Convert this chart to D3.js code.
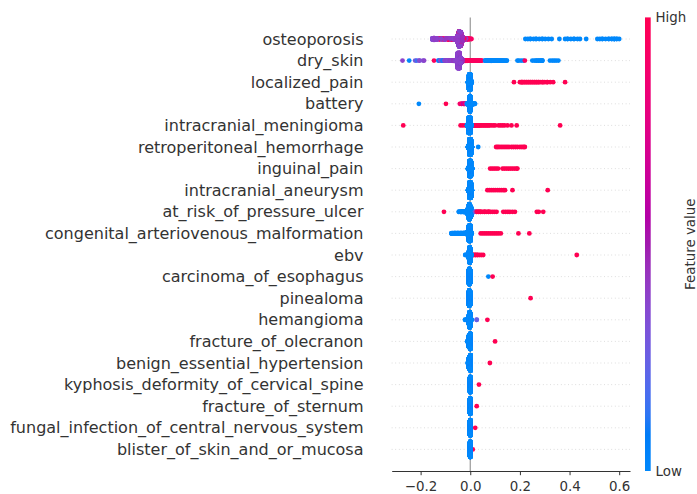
<!DOCTYPE html>
<html>
<head>
<meta charset="utf-8">
<script src="https://cdn.jsdelivr.net/npm/d3@7"></script>
<style>
  body { margin: 0; background: #fff; }
  svg text { font-family: "DejaVu Sans", sans-serif; fill: #333333; }
</style>
</head>
<body>
<svg id="chart"></svg>
<script>
// feature names, top to bottom
const features = [
  "osteoporosis", "dry_skin", "localized_pain", "battery",
  "intracranial_meningioma", "retroperitoneal_hemorrhage", "inguinal_pain",
  "intracranial_aneurysm", "at_risk_of_pressure_ulcer",
  "congenital_arteriovenous_malformation", "ebv", "carcinoma_of_esophagus",
  "pinealoma", "hemangioma", "fracture_of_olecranon",
  "benign_essential_hypertension", "kyphosis_deformity_of_cervical_spine",
  "fracture_of_sternum", "fungal_infection_of_central_nervous_system",
  "blister_of_skin_and_or_mucosa"
];
const xTicks = [-0.2, 0.0, 0.2, 0.4, 0.6];
const colorLabels = ["Low", "High"];

// [shap value, feature value (0 low .. 1 high), number of samples]
const osteoporosis = [
  [-0.152, 0.36, 16], [-0.146, 0.4, 24], [-0.139, 0.38, 14], [-0.131, 0.4, 8],
  [-0.124, 0.95, 6], [-0.117, 0.38, 8], [-0.11, 0.95, 6], [-0.103, 0.4, 8],
  [-0.096, 0.42, 8], [-0.089, 0.95, 6], [-0.089, 0.38, 5], [-0.081, 0.4, 10],
  [-0.074, 0.95, 6], [-0.074, 0.4, 6], [-0.066, 0.38, 14], [-0.059, 0.42, 16],
  [-0.059, 0.95, 6], [-0.052, 0.4, 80], [-0.045, 0.38, 150], [-0.045, 0.95, 50],
  [-0.038, 0.4, 140], [-0.038, 0.95, 40], [-0.031, 0.45, 50], [-0.024, 0.95, 14],
  [-0.017, 0.4, 10], [-0.01, 0.95, 8], [-0.003, 0.9, 4], [0.004, 0.95, 2],
  [0.222, 0, 1], [0.232, 0, 1], [0.242, 0, 2], [0.255, 0, 1], [0.265, 0, 2],
  [0.278, 0, 1], [0.29, 0, 2], [0.302, 0, 1], [0.315, 0, 1], [0.328, 0, 1],
  [0.359, 0, 1], [0.382, 0, 1], [0.392, 0, 2], [0.405, 0, 1], [0.418, 0, 2],
  [0.432, 0, 1], [0.442, 0, 1], [0.467, 0, 1], [0.512, 0, 1], [0.522, 0, 1],
  [0.532, 0, 2], [0.545, 0, 1], [0.558, 0, 2], [0.57, 0, 2], [0.58, 0, 3],
  [0.59, 0, 2], [0.6, 0, 1]
];
const dry_skin = [
  [-0.273, 0.38, 1], [-0.246, 0, 1], [-0.222, 0.3, 1], [-0.215, 0.15, 1],
  [-0.205, 0.35, 2], [-0.19, 0.3, 1], [-0.186, 0.38, 1], [-0.146, 0.95, 1],
  [-0.128, 0.1, 2], [-0.12, 0.35, 2], [-0.112, 0.1, 3], [-0.104, 0.38, 3],
  [-0.097, 0.38, 4], [-0.09, 0.35, 5], [-0.083, 0.4, 6], [-0.076, 0.38, 6],
  [-0.069, 0.42, 8], [-0.062, 0.38, 10], [-0.056, 0.38, 30], [-0.05, 0.38, 120],
  [-0.044, 0.4, 200], [-0.044, 0.1, 30], [-0.038, 0.38, 120], [-0.032, 0.45, 40],
  [-0.026, 0.9, 12], [-0.02, 0.95, 8], [-0.013, 0.95, 8], [-0.006, 0.95, 6],
  [0.001, 0.95, 6], [0.008, 0.95, 5], [0.015, 0.95, 5], [0.022, 0.9, 4],
  [0.03, 0.95, 4], [0.038, 0.95, 3], [0.046, 0.95, 2], [0.06, 0, 3],
  [0.068, 0, 4], [0.076, 0, 5], [0.084, 0, 8], [0.092, 0, 5], [0.1, 0, 4],
  [0.108, 0, 4], [0.116, 0, 3], [0.124, 0, 3], [0.132, 0, 3], [0.14, 0, 2],
  [0.147, 0, 2], [0.19, 0, 1], [0.196, 0, 1], [0.205, 0, 1], [0.214, 0, 1],
  [0.22, 0.95, 1], [0.25, 0, 1], [0.258, 0, 1], [0.266, 0, 2], [0.275, 0, 2],
  [0.283, 0, 2], [0.29, 0, 3], [0.321, 0, 1], [0.33, 0, 1], [0.338, 0, 1],
  [0.346, 0, 1], [0.355, 0, 1]
];
const localized_pain = [
  [-0.008, 0, 40], [-0.004, 0, 300], [0.0, 0, 300], [0.004, 0, 40],
  [0.176, 1, 1], [0.2, 1, 1], [0.206, 1, 2], [0.212, 1, 2], [0.22, 1, 2],
  [0.228, 1, 2], [0.236, 1, 2], [0.244, 1, 2], [0.252, 1, 2], [0.26, 1, 2],
  [0.268, 1, 2], [0.276, 1, 2], [0.284, 1, 1], [0.292, 1, 2], [0.3, 1, 1],
  [0.31, 1, 2], [0.322, 1, 1], [0.334, 1, 1], [0.382, 1, 1]
];
const battery = [
  [-0.207, 0, 1], [-0.098, 1, 1], [-0.042, 0.9, 1], [-0.035, 0.9, 2],
  [-0.028, 0.6, 2], [-0.022, 0.9, 3], [-0.016, 0.4, 3], [-0.012, 0, 15],
  [-0.008, 0, 40], [-0.004, 0, 150], [-0.001, 0, 500], [0.002, 0, 150],
  [0.006, 0, 40], [0.01, 0, 15], [0.015, 0, 6], [0.019, 0, 2]
];
const intracranial_meningioma = [
  [-0.27, 1, 1], [-0.039, 1, 1], [-0.03, 1, 1], [-0.02, 1, 1],
  [-0.012, 0, 20], [-0.006, 0, 300], [0.0, 0, 300], [0.005, 0, 20],
  [0.012, 1, 3], [0.02, 1, 3], [0.028, 1, 3], [0.036, 1, 3], [0.044, 1, 2],
  [0.052, 1, 2], [0.06, 1, 2], [0.068, 1, 2], [0.076, 1, 2], [0.085, 1, 1],
  [0.093, 1, 1], [0.1, 1, 1], [0.114, 1, 1], [0.122, 1, 1], [0.13, 1, 1],
  [0.138, 1, 1], [0.15, 1, 1], [0.166, 1, 1], [0.187, 1, 1], [0.362, 1, 1]
];
const retroperitoneal_hemorrhage = [
  [-0.008, 0, 40], [-0.003, 0, 300], [0.002, 0, 300], [0.006, 0, 30],
  [0.032, 0, 1], [0.104, 1, 1], [0.11, 1, 1], [0.116, 1, 1], [0.124, 1, 1],
  [0.132, 1, 1], [0.14, 1, 1], [0.148, 1, 1], [0.156, 1, 1], [0.166, 1, 1],
  [0.174, 1, 1], [0.182, 1, 1], [0.19, 1, 1], [0.2, 1, 1], [0.208, 1, 1],
  [0.215, 1, 1], [0.22, 1, 1]
];
const inguinal_pain = [
  [-0.008, 0, 30], [-0.003, 0, 300], [0.002, 0, 300], [0.007, 0, 20],
  [0.08, 1, 1], [0.088, 1, 1], [0.096, 1, 1], [0.104, 1, 1], [0.112, 1, 1],
  [0.13, 1, 1], [0.138, 1, 1], [0.146, 1, 1], [0.154, 1, 1], [0.162, 1, 1],
  [0.17, 1, 1], [0.178, 1, 1], [0.186, 1, 1], [0.19, 1, 1]
];
const intracranial_aneurysm = [
  [-0.008, 0, 30], [-0.003, 0, 300], [0.002, 0, 300], [0.006, 0, 20],
  [0.069, 1, 1], [0.077, 1, 1], [0.085, 1, 1], [0.093, 1, 1], [0.101, 1, 1],
  [0.11, 1, 1], [0.118, 1, 1], [0.126, 1, 1], [0.134, 1, 1], [0.14, 1, 1],
  [0.17, 1, 1], [0.312, 1, 1]
];
const at_risk_of_pressure_ulcer = [
  [-0.106, 1, 1], [-0.046, 0, 2], [-0.04, 0, 3], [-0.034, 0, 4], [-0.028, 0, 6],
  [-0.022, 0, 10], [-0.016, 0, 20], [-0.01, 0, 100], [-0.004, 0, 300],
  [0.002, 0, 200], [0.018, 0.25, 2], [0.026, 1, 2], [0.034, 1, 2], [0.042, 1, 2],
  [0.05, 1, 1], [0.058, 1, 2], [0.066, 1, 1], [0.074, 1, 2], [0.082, 1, 1],
  [0.09, 1, 1], [0.098, 1, 1], [0.106, 1, 1], [0.133, 1, 1], [0.142, 1, 1],
  [0.151, 1, 1], [0.16, 1, 1], [0.17, 1, 1], [0.18, 1, 1], [0.268, 1, 1],
  [0.276, 1, 1], [0.294, 1, 1]
];
const congenital_arteriovenous_malformation = [
  [-0.075, 0, 6], [-0.07, 0, 8], [-0.064, 0, 10], [-0.058, 0, 10],
  [-0.052, 0, 10], [-0.046, 0, 10], [-0.04, 0, 10], [-0.034, 0, 10],
  [-0.028, 0, 12], [-0.022, 0, 14], [-0.016, 0, 20], [-0.01, 0, 60],
  [-0.005, 0, 300], [0.0, 0, 300], [0.004, 0, 30], [0.042, 1, 1], [0.05, 1, 1],
  [0.058, 1, 1], [0.066, 1, 1], [0.074, 1, 1], [0.082, 1, 1], [0.09, 1, 1],
  [0.098, 1, 1], [0.106, 1, 1], [0.114, 1, 1], [0.123, 1, 1], [0.194, 1, 1],
  [0.238, 1, 1]
];
const ebv = [
  [-0.02, 0, 2], [-0.012, 0, 8], [-0.006, 0, 150], [-0.002, 0, 400],
  [0.003, 0, 60], [0.012, 1, 2], [0.02, 1, 2], [0.028, 1, 2], [0.036, 1, 1],
  [0.044, 1, 1], [0.052, 1, 1], [0.429, 1, 1]
];
const carcinoma_of_esophagus = [
  [-0.004, 0, 400], [0.001, 0, 300], [0.073, 0, 1], [0.09, 1, 1]
];
const pinealoma = [
  [-0.004, 0, 400], [0.001, 0, 300], [0.243, 1, 1]
];
const hemangioma = [
  [-0.021, 0, 2], [-0.014, 0, 6], [-0.006, 0, 200], [-0.002, 0, 400],
  [0.003, 0, 50], [0.026, 0.25, 2], [0.069, 1, 1]
];
const fracture_of_olecranon = [
  [-0.012, 0, 3], [-0.005, 0, 300], [0.0, 0, 400], [0.1, 1, 1]
];
const benign_essential_hypertension = [
  [-0.01, 0, 3], [-0.004, 0, 300], [0.001, 0, 400], [0.079, 1, 1]
];
const kyphosis_deformity_of_cervical_spine = [
  [-0.003, 0, 300], [0.0, 0, 400], [0.035, 1, 1]
];
const fracture_of_sternum = [
  [-0.003, 0, 300], [0.0, 0, 400], [0.026, 1, 1]
];
const fungal_infection_of_central_nervous_system = [
  [-0.003, 0, 300], [0.0, 0, 400], [0.02, 1, 1]
];
const blister_of_skin_and_or_mucosa = [
  [-0.003, 0, 300], [0.0, 0, 400], [0.01, 1, 1]
];

const rows = [
  osteoporosis, dry_skin, localized_pain, battery, intracranial_meningioma,
  retroperitoneal_hemorrhage, inguinal_pain, intracranial_aneurysm,
  at_risk_of_pressure_ulcer, congenital_arteriovenous_malformation, ebv,
  carcinoma_of_esophagus, pinealoma, hemangioma, fracture_of_olecranon,
  benign_essential_hypertension, kyphosis_deformity_of_cervical_spine,
  fracture_of_sternum, fungal_infection_of_central_nervous_system,
  blister_of_skin_and_or_mucosa
];

const width = 697, height = 494;
const plotLeft = 391.7, plotRight = 630, plotTop = 17.4, plotBottom = 471;

const svg = d3.select("#chart")
  .attr("width", width)
  .attr("height", height);

const x = d3.scaleLinear().domain([-0.3165, 0.6435]).range([plotLeft, plotRight]);
const y = d3.scaleLinear().domain([-1, features.length]).range([plotBottom, plotTop]);

// shap red_blue colormap, interpolated in lch
function redBlue(t) {
  const l = t < 0.5 ? 54 - 14 * (t / 0.5) : 40 + 14 * ((t - 0.5) / 0.5);
  const c = 70 + 20 * t;
  const h = 266.93 + (380.32 - 266.93) * t;
  return d3.hcl(h % 360, c, l).formatHex();
}

// beeswarm offsets, same binning as shap's summary plot
function swarm(entries) {
  const pts = [];
  entries.forEach(([s, v, n], e) => {
    for (let j = 0; j < n; j++) pts.push({ s: s, v: v, k: j / n, e: e });
  });
  const lo = d3.min(pts, d => d.s), hi = d3.max(pts, d => d.s);
  pts.forEach(d => d.q = Math.round(100 * (d.s - lo) / (hi - lo + 1e-8)));
  const order = pts.slice().sort((a, b) => a.q - b.q || a.k - b.k || a.e - b.e);
  let layer = 0, last = null;
  order.forEach(d => {
    if (d.q !== last) { layer = 0; last = d.q; }
    d.off = Math.ceil(layer / 2) * ((layer % 2) * 2 - 1);
    layer++;
  });
  const m = d3.max(pts, d => d.off) + 1;
  pts.forEach(d => d.off *= 0.9 * 0.4 / m);
  return pts.sort((a, b) => a.k - b.k || a.e - b.e);
}

// dotted row guides
svg.append("g")
  .selectAll("line")
  .data(features)
  .enter()
  .append("line")
  .attr("x1", plotLeft)
  .attr("x2", plotRight)
  .attr("y1", (d, i) => y(features.length - 1 - i))
  .attr("y2", (d, i) => y(features.length - 1 - i))
  .attr("stroke", "#cccccc")
  .attr("stroke-width", 0.8)
  .attr("stroke-dasharray", "0.8,2.8");

// zero line
svg.append("line")
  .attr("x1", x(0)).attr("x2", x(0))
  .attr("y1", plotTop).attr("y2", plotBottom)
  .attr("stroke", "#999999")
  .attr("stroke-width", 1.2);

// dots
rows.forEach(function(entries, i) {
  const pos = features.length - 1 - i;
  svg.append("g")
    .selectAll("circle")
    .data(swarm(entries))
    .enter()
    .append("circle")
    .attr("cx", d => x(d.s))
    .attr("cy", d => y(pos + d.off))
    .attr("r", 2.4)
    .attr("fill", d => redBlue(d.v));
});

// feature labels
svg.append("g")
  .selectAll("text")
  .data(features)
  .enter()
  .append("text")
  .attr("x", 363.5)
  .attr("y", (d, i) => y(features.length - 1 - i))
  .attr("dy", "0.35em")
  .attr("text-anchor", "end")
  .style("font-size", "16px")
  .text(d => d);

// x axis
const xAxis = d3.axisBottom(x)
  .tickValues(xTicks)
  .tickFormat(d3.format(".1f"))
  .tickSize(4.2)
  .tickSizeOuter(0)
  .tickPadding(6.4);

const gx = svg.append("g")
  .attr("transform", "translate(0," + plotBottom + ")")
  .call(xAxis);
gx.select(".domain").attr("stroke", "#333333").attr("stroke-width", 1);
gx.selectAll(".tick line").attr("stroke", "#333333").attr("stroke-width", 1);
gx.selectAll(".tick text")
  .attr("fill", "#333333")
  .style("font-family", "DejaVu Sans, sans-serif")
  .style("font-size", "13.4px");

// colour bar
const grad = svg.append("defs").append("linearGradient")
  .attr("id", "cbar")
  .attr("x1", 0).attr("y1", 1).attr("x2", 0).attr("y2", 0);
grad.selectAll("stop")
  .data(d3.range(0, 1.0001, 0.02))
  .enter()
  .append("stop")
  .attr("offset", d => d * 100 + "%")
  .attr("stop-color", d => redBlue(d));

const cbY = d3.scaleLinear().domain([0, 1]).range([plotBottom, plotTop]);

svg.append("rect")
  .attr("x", 645)
  .attr("y", plotTop)
  .attr("width", 5.7)
  .attr("height", plotBottom - plotTop)
  .attr("fill", "url(#cbar)");

svg.append("g")
  .selectAll("text")
  .data(colorLabels)
  .enter()
  .append("text")
  .attr("x", 655.5)
  .attr("y", (d, i) => cbY(i))
  .attr("dy", "0.35em")
  .style("font-size", "13.4px")
  .text(d => d);

svg.append("text")
  .attr("transform", "translate(690," + (plotTop + plotBottom) / 2 + ") rotate(-90)")
  .attr("text-anchor", "middle")
  .attr("dy", "0.35em")
  .style("font-size", "13.4px")
  .text("Feature value");
</script>
</body>
</html>
